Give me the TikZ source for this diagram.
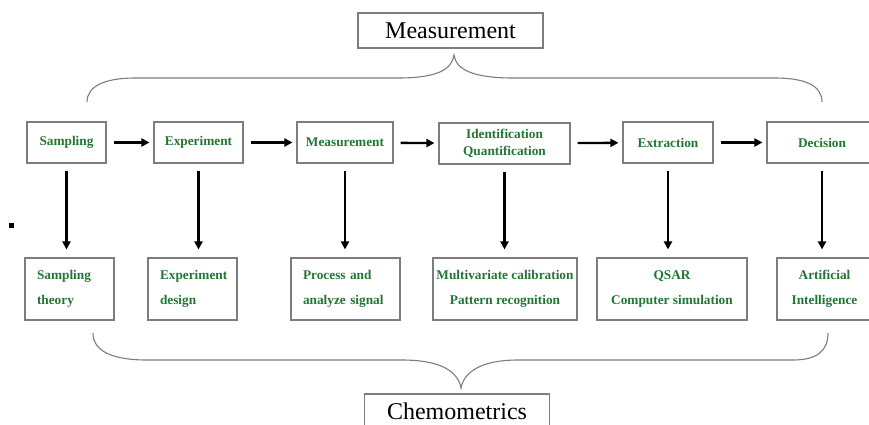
\documentclass[tikz,border=0pt]{standalone}
\usepackage{fontspec}
\setmainfont{Liberation Serif}
\usetikzlibrary{arrows.meta}
\definecolor{stagegreen}{RGB}{34,118,52}
\definecolor{framegray}{RGB}{125,125,125}
\begin{document}
\begin{tikzpicture}[x=1pt,y=-1pt,
    stage/.style={draw=framegray, line width=1.1pt, text=stagegreen, inner sep=0pt,
        minimum height=41pt, align=center, font=\bfseries\fontsize{13.3}{17}\selectfont},
    method/.style={draw=framegray, line width=1.1pt, text=stagegreen, inner xsep=12pt, inner ysep=0pt,
        minimum height=62pt, font=\bfseries\fontsize{13.3}{25}\selectfont},
    title/.style={draw=framegray, line width=1.1pt, inner sep=0pt, minimum width=185pt,
        minimum height=35pt, font=\fontsize{24}{28}\selectfont},
    flow/.style={-{Triangle[length=8pt,width=8pt]}, line width=2.3pt, shorten <=7pt, shorten >=4pt},
    down/.style={-{Triangle[length=8pt,width=8pt]}, line width=2.3pt, shorten <=7pt, shorten >=8pt},
    brace/.style={draw=framegray, line width=1.1pt}]
    \useasboundingbox (0,0) rectangle (869,424);

    \node[title] (measure) at (450.5,30.5) {Measurement};
    \node[title] (chemo) at (457,411.5) {Chemometrics};

    \draw[brace] (87,102) .. controls (87,86) and (105,78) .. (135,78) -- (398,78)
        .. controls (436,78) and (452,70) .. (454,55) .. controls (456,70) and (474,78) .. (513,78)
        -- (775,78) .. controls (806,78) and (822,86) .. (822,102);
    \draw[brace] (93,333) .. controls (93,350) and (110,360) .. (147,360) -- (402,360)
        .. controls (442,360) and (458,372) .. (461,388) .. controls (464,372) and (481,360) .. (518,360)
        -- (793,360) .. controls (818,360) and (828,350) .. (828,333);

    \node[stage, minimum width=79pt] (samp) at (66.5,142.5) {Sampling};
    \node[stage, minimum width=89pt] (exper) at (198.5,142.5) {Experiment};
    \node[stage, minimum width=96pt] (meas) at (345,142.5) {Measurement};
    \node[stage, minimum width=131pt] (idq) at (504.5,143.5) {Identification\\Quantification};
    \node[stage, minimum width=90pt] (extr) at (668,142.5) {Extraction};
    \node[stage, minimum width=110pt] (deci) at (822,142.5) {Decision};

    \node[method, text width=65pt, align=left] (sampt) at (69.5,289) {Sampling\\theory};
    \node[method, text width=65pt, align=left] (expd) at (192.5,289) {Experiment\\design};
    \node[method, text width=85pt, align=left] (proc) at (345.5,289) {Process and\\analyze signal};
    \node[method, inner xsep=0pt, minimum width=144pt, align=center] (multi) at (505,289) {Multivariate calibration\\Pattern recognition};
    \node[method, inner xsep=0pt, minimum width=150pt, align=center] (qsar) at (672,289) {QSAR\\Computer simulation};
    \node[method, inner xsep=0pt, minimum width=95pt, align=center] (ai) at (824.5,289) {Artificial\\Intelligence};

    \draw[flow] (samp) -- (exper);
    \draw[flow] (exper) -- (meas);
    \draw[flow] (meas) -- (idq);
    \draw[flow] (idq) -- (extr);
    \draw[flow] (extr) -- (deci);

    \draw[down] (samp.south) -- (samp.south |- sampt.north);
    \draw[down] (exper.south) -- (exper.south |- expd.north);
    \draw[down] (meas.south) -- (meas.south |- proc.north);
    \draw[down] (idq.south) -- (idq.south |- multi.north);
    \draw[down] (extr.south) -- (extr.south |- qsar.north);
    \draw[down] (deci.south) -- (deci.south |- ai.north);

    \fill (9,223) rectangle (14,228);
\end{tikzpicture}
\end{document}
